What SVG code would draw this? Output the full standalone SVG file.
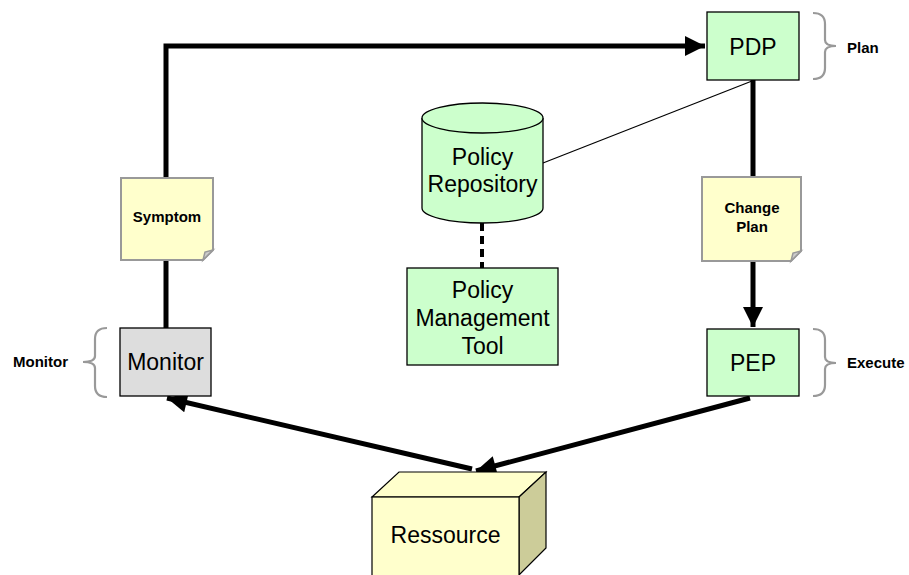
<svg xmlns="http://www.w3.org/2000/svg" width="909" height="575" viewBox="0 0 909 575">
<defs>
<style>
.box{fill:#ccffcc;stroke:#000;stroke-width:1.3}
.note{fill:#ffffcc;stroke:#999;stroke-width:2}
.brace{fill:none;stroke:#999;stroke-width:2.2}
.t{font-family:"Liberation Sans",Arial,sans-serif;font-size:23px;text-anchor:middle;fill:#000}
.b{font-family:"Liberation Sans",Arial,sans-serif;font-size:15px;font-weight:bold;fill:#000}
.thick{fill:none;stroke:#000;stroke-width:5}
</style>
<marker id="ah" viewBox="0 0 10 10" refX="10" refY="5" markerWidth="4.2" markerHeight="4" orient="auto" markerUnits="strokeWidth">
<path d="M0,0 L10,5 L0,10 z" fill="#000"/>
</marker>
</defs>
<rect width="909" height="575" fill="#fff"/>
<g id="connectors">
<polyline class="thick" points="166,178 166,46 705,46" marker-end="url(#ah)"/>
<line class="thick" x1="166" y1="260" x2="166" y2="328"/>
<line class="thick" x1="753" y1="80" x2="753" y2="177"/>
<line class="thick" x1="753" y1="261" x2="753" y2="327" marker-end="url(#ah)"/>
<line class="thick" x1="750" y1="398" x2="476" y2="471" marker-end="url(#ah)"/>
<line class="thick" x1="472" y1="469" x2="167" y2="398" marker-end="url(#ah)"/>
<line x1="543" y1="163" x2="752" y2="81" stroke="#000" stroke-width="1.2"/>
<line x1="482" y1="223" x2="482" y2="268" stroke="#000" stroke-width="4" stroke-dasharray="8,5"/>
</g>
<g id="pdp">
<rect class="box" x="707" y="12" width="92" height="68"/>
<text class="t" x="753" y="55">PDP</text>
</g>
<g id="plan-brace">
<path class="brace" d="M813,13 Q825,13 825,24 L825,40 Q825,46 836,46 Q825,46 825,52 L825,68 Q825,79 813,79"/>
<text class="b" x="847" y="53">Plan</text>
</g>
<g id="pep">
<rect class="box" x="707" y="329" width="92" height="67"/>
<text class="t" x="753" y="371">PEP</text>
</g>
<g id="execute-brace">
<path class="brace" d="M813,329 Q825,329 825,340 L825,357 Q825,363 836,363 Q825,363 825,369 L825,385 Q825,396 813,396"/>
<text class="b" x="847" y="368">Execute</text>
</g>
<g id="monitor">
<rect x="120" y="328" width="91" height="68" fill="#dddddd" stroke="#000" stroke-width="1.3"/>
<text class="t" x="165.5" y="370">Monitor</text>
</g>
<g id="monitor-brace">
<path class="brace" d="M107,328 Q95,328 95,339 L95,356 Q95,362 83,362 Q95,362 95,368 L95,386 Q95,397 107,397"/>
<text class="b" x="13" y="367">Monitor</text>
</g>
<g id="symptom">
<path class="note" d="M121,178 L213,178 L213,250 L203,260 L121,260 Z"/>
<path d="M213,250 L205,252 L203,260 Z" fill="#ccc" stroke="#999" stroke-width="1.5"/>
<text class="b" x="167" y="222" text-anchor="middle">Symptom</text>
</g>
<g id="change-plan">
<path class="note" d="M702,177 L801,177 L801,251 L791,261 L702,261 Z"/>
<path d="M801,251 L793,253 L791,261 Z" fill="#ccc" stroke="#999" stroke-width="1.5"/>
<text class="b" x="752" y="213" text-anchor="middle">Change</text>
<text class="b" x="752" y="232" text-anchor="middle">Plan</text>
</g>
<g id="policy-repository">
<path class="box" d="M422,118 L422,208 A60.5,15 0 0 0 543,208 L543,118"/>
<ellipse class="box" cx="482.5" cy="118" rx="60.5" ry="15"/>
<text class="t" x="482.5" y="165">Policy</text>
<text class="t" x="482.5" y="192">Repository</text>
</g>
<g id="policy-management-tool">
<rect class="box" x="407" y="268" width="151" height="97"/>
<text class="t" x="482.5" y="298">Policy</text>
<text class="t" x="482.5" y="326">Management</text>
<text class="t" x="482.5" y="354">Tool</text>
</g>
<g id="ressource">
<path d="M372,497 L399,472 L546,472 L519,497 Z" fill="#ffffcc" stroke="#000" stroke-width="1.2"/>
<path d="M519,497 L546,472 L546,548 L519,575 Z" fill="#cccc99" stroke="#000" stroke-width="1.2"/>
<rect x="372" y="497" width="147" height="80" fill="#ffffcc" stroke="#000" stroke-width="1.2"/>
<text class="t" x="445.5" y="543">Ressource</text>
</g>
</svg>
